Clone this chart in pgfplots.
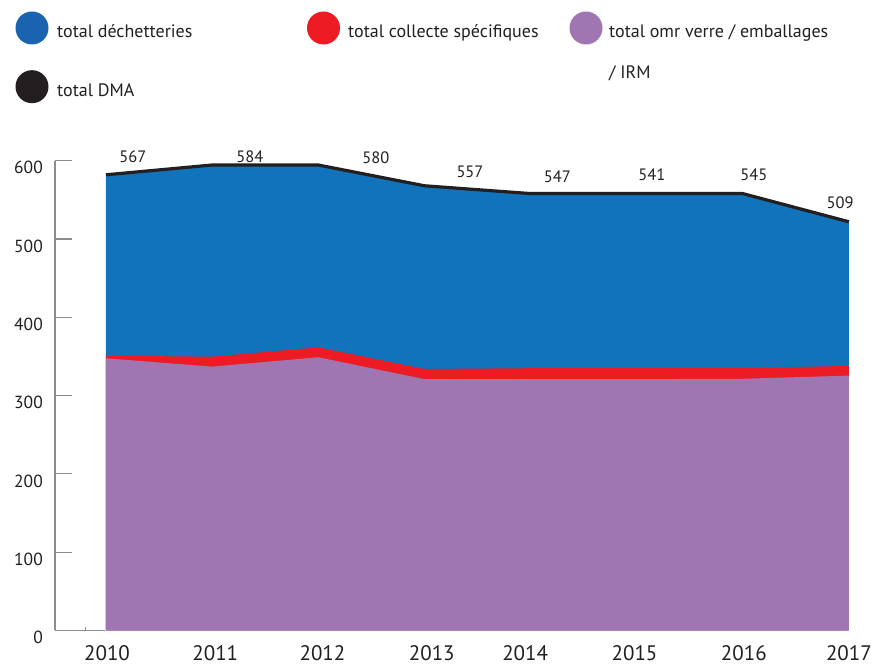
\documentclass[border=0pt]{standalone}
\usepackage{pgfplots}
\pgfplotsset{compat=1.18}
\usepackage{fontspec}
\setmainfont{PT Sans}
\definecolor{cblue}{RGB}{16,115,188}
\definecolor{cred}{RGB}{237,28,36}
\definecolor{cpurple}{RGB}{159,118,178}
\definecolor{cblack}{RGB}{35,31,32}
\definecolor{lblue}{RGB}{26,99,176}
\definecolor{axgray}{RGB}{140,140,140}
\definecolor{txt}{RGB}{35,31,32}
\begin{document}
\begin{tikzpicture}
\useasboundingbox (0pt,0pt) rectangle (871pt,667pt);
% legend
\fill[lblue] (32pt,639pt) circle (16.5pt);
\node[anchor=base west, inner sep=0, text=txt] at (57pt,629.7pt) {\fontsize{18}{21}\selectfont total déchetteries};
\fill[cred] (323.5pt,639pt) circle (16.5pt);
\node[anchor=base west, inner sep=0, text=txt] at (348pt,629.7pt) {\fontsize{18}{21}\selectfont total collecte spécifiques};
\fill[cpurple] (586pt,639pt) circle (16.5pt);
\node[anchor=base west, inner sep=0, text=txt] at (609pt,629.7pt) {\fontsize{18}{21}\selectfont total omr verre / emballages};
\node[anchor=base west, inner sep=0, text=txt] at (609pt,588pt) {\fontsize{18}{21}\selectfont / IRM};
\fill[cblack] (32pt,580.3pt) circle (16.5pt);
\node[anchor=base west, inner sep=0, text=txt] at (57pt,570.3pt) {\fontsize{18}{21}\selectfont total DMA};
\begin{axis}[
  at={(55pt,36.5pt)}, anchor=south west, scale only axis,
  width=799.2pt, height=469.8pt,
  xmin=2009.52, xmax=2017.05, ymin=0, ymax=600,
  clip=false,
  axis y line*=left, axis x line*=bottom,
  x axis line style={draw=none},
  y axis line style={axgray, line width=1.2pt, -},
  ytick={0,100,...,600},
  tick align=inside,
  major tick length=17pt,
  ytick style={axgray, line width=1.2pt},
  xtick style={draw=none},
  xtick={2010.01,2011.03,2012.04,2013.07,2013.95,2014.98,2016.01,2017.0},
  xticklabels={2010,2011,2012,2013,2014,2015,2016,2017},
  /pgf/number format/assume math mode=true,
  /pgf/number format/1000 sep={},
  yticklabel style={font=\fontsize{17.5}{20}\selectfont, anchor=east, inner sep=0pt, xshift=-12pt, yshift=-7pt, text=txt},
  xticklabel style={font=\fontsize{21}{23}\selectfont, anchor=center, inner sep=0pt, yshift=-23pt, text=txt},
]
\addplot[fill=cblue, draw=none] coordinates {(2010,582)(2011,594.5)(2012,594.5)(2013,568)(2014,558)(2015,558)(2016,558)(2017,522)} \closedcycle;
\addplot[fill=cred, draw=none] coordinates {(2010,351)(2011,349.7)(2012,361.7)(2013,334)(2014,335)(2015,335)(2016,335)(2017,338)} \closedcycle;
\addplot[fill=cpurple, draw=none] coordinates {(2010,347.6)(2011,337)(2012,349)(2013,321)(2014,321)(2015,321)(2016,321.5)(2017,325.5)} \closedcycle;
\addplot[cblack, line width=3.2pt, line join=round] coordinates {(2010,582)(2011,594.5)(2012,594.5)(2013,568)(2014,558)(2015,558)(2016,558)(2017,522)};
\addplot[draw=none, mark=none, nodes near coords, point meta=explicit symbolic,
  nodes near coords style={anchor=center, inner sep=0pt, font=\fontsize{16.5}{19}\selectfont, text=txt}]
  table[meta=label] {
x y label
2010.254 604.9 567
2011.357 605.7 584
2012.544 604.4 580
2013.43 585.7 557
2014.254 578.9 547
2015.144 581.5 541
2016.105 581.5 545
2016.917 546.2 509
};
\draw[axgray, line width=1.2pt] (axis cs:2009.52,0) -- (axis cs:2009.99,0);
\draw[axgray, line width=0.8pt] (axis cs:2009.81,0) -- (axis cs:2009.81,4);
\end{axis}
\end{tikzpicture}
\end{document}
